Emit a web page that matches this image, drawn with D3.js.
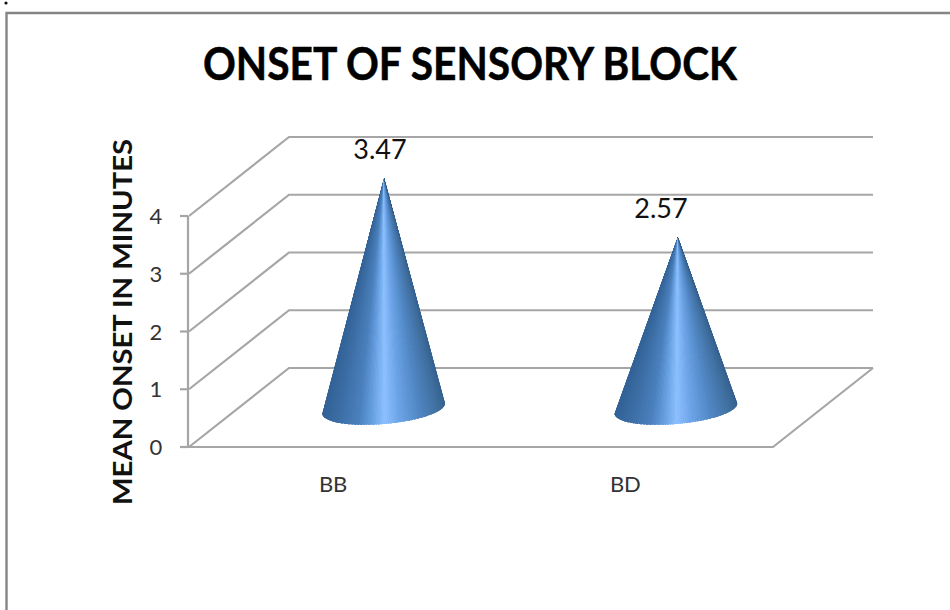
<!DOCTYPE html>
<html>
<head>
<meta charset="utf-8">
<script src="https://cdn.jsdelivr.net/npm/d3@7"></script>
<style>
html,body{margin:0;padding:0;background:#fff;overflow:hidden}
svg{display:block}
text{font-family:Lato,"Open Sans",sans-serif}
</style>
</head>
<body>
<svg id="chart" width="950" height="610"></svg>
<script>
// Chart content
const titleText = "ONSET OF SENSORY BLOCK";
const yAxisTitle = "MEAN ONSET IN MINUTES";
const categories = ["BB", "BD"];
const onsetMinutes = [3.47, 2.57];
const valueLabels = ["3.47", "2.57"];
const yTicks = [0, 1, 2, 3, 4];

const svg = d3.select("#chart");
const gridColor = "#a6a6a6";
const defs = svg.append("defs");

// Outer chart frame: only the top and left edges fall inside the page
svg.append("path")
  .attr("d", "M6.5,610V13H950")
  .attr("fill", "none").attr("stroke", "#858585").attr("stroke-width", 2.4);
svg.append("circle").attr("cx", 6).attr("cy", 3).attr("r", 1.6).attr("fill", "#111");

// 3D box: front plane scale, and the offset of the back wall from it
const yFront = d3.scaleLinear().domain([0, 4]).range([447, 216]);
const depth = { x: 100, y: -79 };
const xBand = d3.scaleBand().domain(categories).range([187, 771.5]);
const frontLeft = 190, frontRight = 773;

const grid = svg.append("g").attr("fill", "none").attr("stroke", gridColor).attr("stroke-width", 2.2);

// Wall gridlines run along the side wall, then along the back wall
grid.selectAll("path.wall").data(yTicks).join("path").attr("class", "wall")
  .attr("d", v => d3.line()([
    [frontLeft - 1, yFront(v)],
    [frontLeft - 1 + depth.x, yFront(v) + depth.y],
    [frontRight + depth.x, yFront(v) + depth.y]
  ]));

// Floor front and right edges, value axis with tick marks
grid.append("path").attr("d", d3.line()([
  [frontLeft - 10, yFront(0)],
  [frontRight, yFront(0)],
  [frontRight + depth.x, yFront(0) + depth.y]
]));
grid.append("path").attr("d", d3.line()([[frontLeft - 2, yFront(4)], [frontLeft - 2, yFront(0)]]));
grid.selectAll("path.tick").data(yTicks).join("path").attr("class", "tick")
  .attr("d", v => d3.line()([[frontLeft - 10, yFront(v)], [frontLeft - 2, yFront(v)]]));

// Value axis labels
svg.append("g").selectAll("text").data(yTicks).join("text")
  .attr("x", 156).attr("y", v => yFront(v) + 8)
  .attr("text-anchor", "middle").attr("font-size", 22).attr("fill", "#333")
  .text(v => v);

// Category labels
svg.append("g").selectAll("text").data(categories).join("text")
  .attr("x", c => xBand(c) + xBand.bandwidth() / 2).attr("y", 492)
  .attr("text-anchor", "middle").attr("font-size", 22).attr("fill", "#333")
  .text(c => c);

// Cones stand mid-way into the box; their heights follow a slightly larger perspective scale
const yCone = d3.scaleLinear().domain([0, 4]).range([405.6, 143.6]);
const coneShade = d3.scaleLinear()
  .domain([0, 0.1, 0.3, 0.4, 0.5, 0.62, 0.78, 0.92, 1])
  .range(["#2f5f94", "#38699f", "#4a80bd", "#669fe0", "#8cc0ff", "#6ba3e6", "#4f85c2", "#406f9f", "#2f5c8a"]);
const baseRx = 61.5, baseRy = 15.5, baseTilt = -5 * Math.PI / 180;
const fanSteps = d3.range(120);

function basePoint(cx, cy, t, grow) {
  // t = 0 is the left rim, t = 1 the right rim, passing along the front of the base
  const a = Math.PI * (1 - t);
  const ex = grow * baseRx * Math.cos(a), ey = grow * baseRy * Math.sin(a);
  return [
    cx + ex * Math.cos(baseTilt) - ey * Math.sin(baseTilt),
    cy + ex * Math.sin(baseTilt) + ey * Math.cos(baseTilt)
  ];
}

// Shade by horizontal position across the base rather than by arc angle
function horizontalShare(k) {
  const a = Math.PI * (1 - (k + 0.5) / fanSteps.length);
  return (Math.cos(a) + 1) / 2;
}

const cones = svg.append("g").selectAll("g").data(categories).join("g");
cones.each(function (c, i) {
  const cx = xBand(c) + xBand.bandwidth() / 2 + 50.5;
  const cy = 408.5;
  const tip = [cx + 0.5 + i * 1.5, yCone(onsetMinutes[i])];
  const n = fanSteps.length;

  // Smooth silhouette clips the shading wedges, so only the inner seams are pixel-aligned
  const outline = [tip].concat(d3.range(n + 1).map(k => basePoint(cx, cy, k / n, 1)));
  defs.append("clipPath").attr("id", "cone-" + i)
    .append("path").attr("d", d3.line()(outline) + "Z");

  d3.select(this).attr("clip-path", `url(#cone-${i})`)
    .selectAll("path").data(fanSteps).join("path")
    .attr("d", k => d3.line()([tip, basePoint(cx, cy, k / n, 1.06), basePoint(cx, cy, (k + 1) / n, 1.06)]) + "Z")
    .attr("fill", k => coneShade(horizontalShare(k)))
    .attr("stroke", k => coneShade(horizontalShare(k)))
    .attr("stroke-width", 1)
    .attr("shape-rendering", "crispEdges");
});

// Value labels
const valueLabelX = [380, 661];
const valueLabelY = [159, 218];
svg.append("g").selectAll("text").data(valueLabels).join("text")
  .attr("x", (d, i) => valueLabelX[i]).attr("y", (d, i) => valueLabelY[i])
  .attr("text-anchor", "middle").attr("font-size", 27).attr("fill", "#111")
  .text(d => d);

// Chart title and value-axis title
svg.append("text")
  .attr("x", 470).attr("y", 80)
  .attr("text-anchor", "middle").attr("font-size", 46).attr("font-weight", 700)
  .attr("fill", "#000").attr("stroke", "#000").attr("stroke-width", 0.5)
  .attr("textLength", 534).attr("lengthAdjust", "spacingAndGlyphs")
  .text(titleText);
svg.append("text")
  .attr("transform", "translate(132,322) rotate(-90)")
  .attr("text-anchor", "middle").attr("font-size", 27).attr("font-weight", 700)
  .attr("fill", "#111").attr("textLength", 366).attr("lengthAdjust", "spacingAndGlyphs")
  .text(yAxisTitle);
</script>
</body>
</html>
